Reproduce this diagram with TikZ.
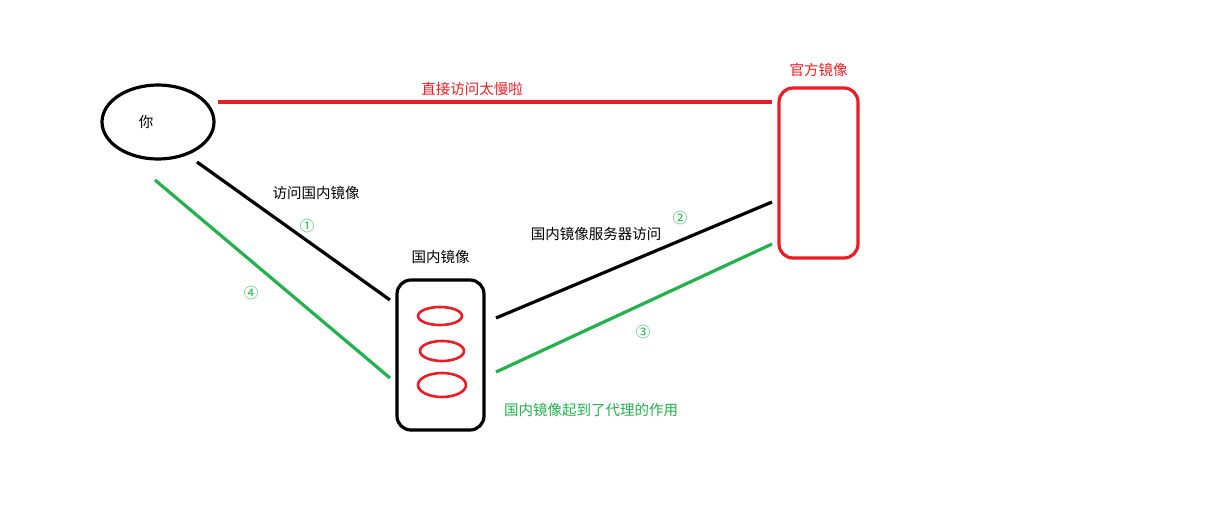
\documentclass[tikz,border=0pt]{standalone}
\usepackage{fontspec}
\setmainfont{Noto Sans CJK SC}
\usetikzlibrary{positioning,shapes.geometric}
\tikzset{
  x=1pt, y=-1pt,
  stroke/.style = {line width=3.2pt},
  lbl/.style    = {inner sep=0pt, font=\fontsize{14.5}{17}\selectfont},
  mirror/.style = {draw, stroke, rounded corners=14pt, minimum width=79pt, inner sep=0pt},
  disk/.style   = {ellipse, draw=red!85!black, line width=2.6pt, inner sep=0pt}
}
\definecolor{myred}{RGB}{237,28,36}
\definecolor{mygreen}{RGB}{34,177,76}
\begin{document}
\begin{tikzpicture}
  \useasboundingbox (0,0) rectangle (1229,507);
  % you
  \node[ellipse, draw, stroke, minimum width=112pt, minimum height=74pt] (you) at (158,122) {};
  \node[lbl] (youtxt) at (146,122) {你};
  % official mirror
  \node[mirror, draw=myred, minimum height=170pt] (official) at (818.5,173) {};
  \node[lbl, text=myred, above=10pt of official] (officialtxt) {官方镜像};
  % domestic mirror
  \node[mirror, minimum width=87pt, minimum height=150pt] (domestic) at (440.5,355) {};
  \node[lbl, above=15pt of domestic] (domestictxt) {国内镜像};
  \node[disk, draw=myred, minimum width=44pt, minimum height=18pt] (d1) at (440,316) {};
  \node[disk, draw=myred, minimum width=44pt, minimum height=20pt] (d2) at (442,351) {};
  \node[disk, draw=myred, minimum width=48pt, minimum height=24pt] (d3) at (442,385) {};
  % line ends
  \coordinate (a1) at (218,102);  \coordinate (a2) at (772,102);
  \coordinate (b1) at (197,162);  \coordinate (b2) at (390,300);
  \coordinate (c1) at (155,180);  \coordinate (c2) at (390,378);
  \coordinate (e1) at (496,318);  \coordinate (e2) at (772,202);
  \coordinate (f1) at (496,372);  \coordinate (f2) at (772,244);
  \draw[stroke, myred] (a1) -- (a2);
  \draw[stroke] (b1) -- (b2);
  \draw[stroke, mygreen] (c1) -- (c2);
  \draw[stroke] (e1) -- (e2);
  \draw[stroke, mygreen] (f1) -- (f2);
  % labels
  \node[lbl, text=myred] (slow) at (472,89) {直接访问太慢啦};
  \node[lbl] (visit) at (316,193) {访问国内镜像};
  \node[lbl, text=mygreen] (n1) at (307,226) {①};
  \node[lbl, text=mygreen] (n4) at (251,293) {④};
  \node[lbl] (server) at (596,234) {国内镜像服务器访问};
  \node[lbl, text=mygreen] (n2) at (680,218) {②};
  \node[lbl, text=mygreen] (n3) at (643,332) {③};
  \node[lbl, text=mygreen] (proxy) at (591,410) {国内镜像起到了代理的作用};
\end{tikzpicture}
\end{document}
